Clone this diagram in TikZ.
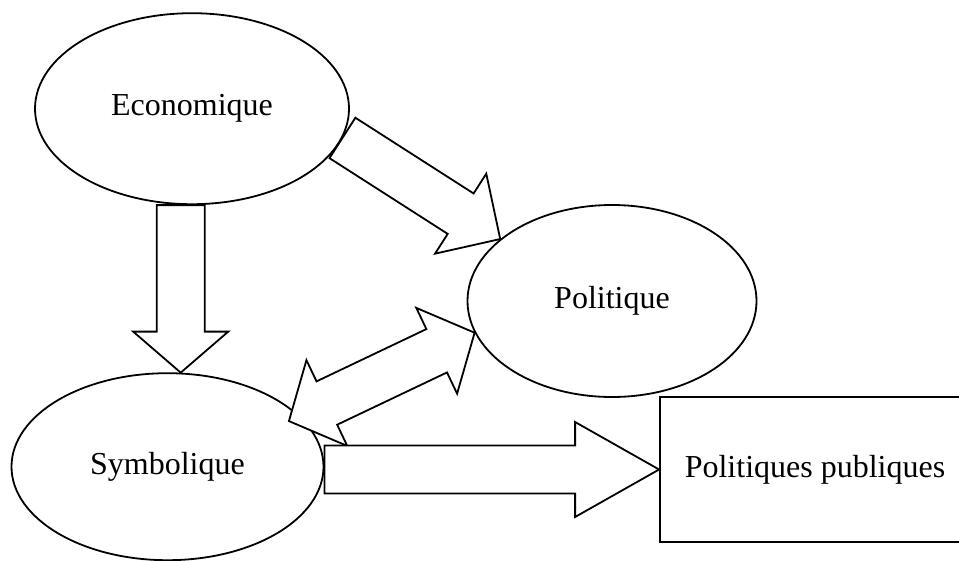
\documentclass[tikz,border=0pt]{standalone}
\usepackage{fontspec}
\setmainfont{Liberation Serif}
\usetikzlibrary{shapes.geometric,calc}
\tikzset{
  bulle/.style={draw,ellipse,line width=1.8pt,inner sep=0pt},
  fleche/.style={draw,fill=white,line width=1.8pt,line join=miter},
}
% #1 origine, #2 pointe, #3 longueur de la tete
\newcommand{\flechebloc}[3]{%
  \coordinate (#2t) at ($(#2)!#3!(#1)$);
  \draw[fleche] ($(#1)!24pt!90:(#2)$) -- ($(#2t)!24pt!90:(#2)$) -- ($(#2t)!47.5pt!90:(#2)$) -- (#2)
    -- ($(#2t)!47.5pt!-90:(#2)$) -- ($(#2t)!24pt!-90:(#2)$) -- ($(#1)!24pt!-90:(#2)$) -- cycle;}
% fleche a deux pointes
\newcommand{\flechedouble}[3]{%
  \coordinate (#1t) at ($(#1)!#3!(#2)$);
  \coordinate (#2t) at ($(#2)!#3!(#1)$);
  \draw[fleche] (#1) -- ($(#1t)!47.5pt!90:(#2)$) -- ($(#1t)!24pt!90:(#2)$) -- ($(#2t)!24pt!90:(#2)$)
    -- ($(#2t)!47.5pt!90:(#2)$) -- (#2) -- ($(#2t)!47.5pt!-90:(#2)$) -- ($(#2t)!24pt!-90:(#2)$)
    -- ($(#1t)!24pt!-90:(#2)$) -- ($(#1t)!47.5pt!-90:(#2)$) -- cycle;}
\begin{document}
\begin{tikzpicture}[x=1pt,y=-1pt,font=\fontsize{32}{38}\selectfont]
		\useasboundingbox (0,0) rectangle (959,560);
		\node[bulle,minimum width=314pt,minimum height=191pt] (eco) at (192,108.7) {Economique};
		\node[bulle,minimum width=289pt,minimum height=192pt] (pol) at (612,301) {Politique};
		\node[bulle,minimum width=312pt,minimum height=187pt] (sym) at (167.5,466.7) {Symbolique};
		\node[draw,line width=1.8pt,inner sep=0pt,minimum width=310pt,minimum height=145pt] (pp) at (815,469.5) {Politiques publiques};
		%les fleches
		\coordinate (b1) at (sym.82);
		\coordinate (a1) at (b1 |- eco.south);
		\flechebloc{a1}{b1}{41pt}
		\coordinate (a2) at (eco.-11);
		\coordinate (b2) at (pol.151);
		\flechebloc{a2}{b2}{47pt}
		\coordinate (b3) at (pol.193);
		\coordinate (a3) at ($(sym.21)!-12pt!(b3)$);
		\flechedouble{a3}{b3}{42pt}
		\coordinate (b4) at (pp.west);
		\coordinate (a4) at (sym.east |- b4);
		\flechebloc{a4}{b4}{84pt}
\end{tikzpicture}
\end{document}
